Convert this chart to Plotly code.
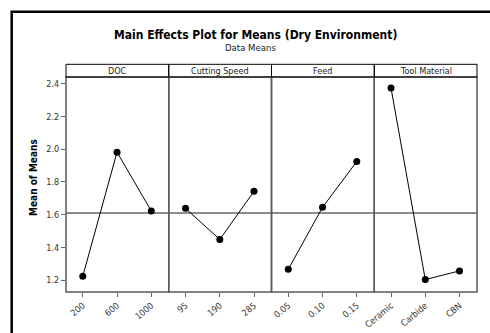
import plotly.graph_objects as go

# ---- data ----
factors = ["DOC", "Cutting Speed", "Feed", "Tool Material"]
doc_levels = ["200", "600", "1000"]
doc_means = [1.224, 1.982, 1.623]
speed_levels = ["95", "190", "285"]
speed_means = [1.639, 1.449, 1.743]
feed_levels = ["0.05", "0.10", "0.15"]
feed_means = [1.267, 1.645, 1.925]
tool_levels = ["Ceramic", "Carbide", "CBN"]
tool_means = [2.374, 1.204, 1.257]
grand_mean = 1.61
y_ticks = [1.2, 1.4, 1.6, 1.8, 2.0, 2.2, 2.4]

levels = [doc_levels, speed_levels, feed_levels, tool_levels]
means = [doc_means, speed_means, feed_means, tool_means]

W, H = 490, 333
L, R, T, B = 66, 13, 77, 41
pw, ph = W - L - R, H - T - B

def px2x(px):
    return (px - L) / pw

def px2y(py):
    return (H - B - py) / ph

FONT = "DejaVu Sans Condensed, DejaVu Sans"
fig = go.Figure()
layout = dict(
    width=W, height=H, autosize=False,
    margin=dict(l=L, r=R, t=T, b=B, pad=0, autoexpand=False),
    paper_bgcolor="white", plot_bgcolor="white",
    showlegend=False,
    font=dict(family=FONT, size=8, color="#333333"),
)
shapes = []
annotations = []
n = len(factors)
for i in range(n):
    ax = "x" if i == 0 else f"x{i+1}"
    key = "xaxis" if i == 0 else f"xaxis{i+1}"
    d0, d1 = i / n, (i + 1) / n
    fig.add_trace(go.Scatter(
        x=list(range(len(levels[i]))), y=means[i],
        xaxis=ax, yaxis="y", mode="lines+markers",
        line=dict(color="black", width=1),
        marker=dict(color="black", size=7),
        cliponaxis=False,
    ))
    layout[key] = dict(
        domain=[d0, d1], anchor="y", range=[-0.49, 2.51],
        tickmode="array", tickvals=list(range(len(levels[i]))),
        ticktext=levels[i], tickangle=-40, automargin=False,
        ticks="outside", ticklen=4, tickcolor="#666666",
        showgrid=False, zeroline=False, showline=False,
        tickfont=dict(family=FONT, size=9, color="#333333"),
    )
    # panel border
    shapes.append(dict(type="rect", xref="paper", yref="paper",
                       x0=d0, x1=d1, y0=0, y1=1,
                       line=dict(color="#5a5a5a", width=1.5), layer="above"))
    # strip
    shapes.append(dict(type="rect", xref="paper", yref="paper",
                       x0=d0, x1=d1, y0=1, y1=px2y(64.3),
                       line=dict(color="black", width=1), layer="above"))
    annotations.append(dict(text=factors[i], xref="paper", yref="paper",
                            x=(d0 + d1) / 2, y=px2y(71), showarrow=False,
                            xanchor="center", yanchor="middle",
                            font=dict(family=FONT, size=9, color="#222222")))

layout["yaxis"] = dict(
    domain=[0, 1], anchor="x", range=[1.128, 2.441], automargin=False,
    tickmode="array", tickvals=y_ticks,
    ticktext=[f"{v:.1f}" for v in y_ticks],
    ticks="outside", ticklen=4, tickcolor="#666666",
    showgrid=False, zeroline=False, showline=False,
    tickfont=dict(family=FONT, size=9, color="#333333"),
)
# grand mean reference line
shapes.append(dict(type="line", xref="paper", yref="y", x0=0, x1=1,
                   y0=grand_mean, y1=grand_mean,
                   line=dict(color="#8c8c8c", width=2), layer="below"))
# outer frame
shapes.append(dict(type="rect", xref="paper", yref="paper",
                   x0=px2x(11.7), x1=px2x(W + 20), y0=px2y(H + 20), y1=px2y(11.7),
                   line=dict(color="black", width=2.5), layer="above"))

annotations.append(dict(text="<b>Main Effects Plot for Means (Dry Environment)</b>",
                        xref="paper", yref="paper", x=px2x(255), y=px2y(34.5),
                        showarrow=False, xanchor="center", yanchor="middle",
                        font=dict(family=FONT, size=12, color="black")))
annotations.append(dict(text="Data Means", xref="paper", yref="paper",
                        x=px2x(250), y=px2y(47.5), showarrow=False,
                        xanchor="center", yanchor="middle",
                        font=dict(family=FONT, size=9.5, color="#222222")))
annotations.append(dict(text="<b>Mean of Means</b>", xref="paper", yref="paper",
                        x=px2x(33), y=px2y(178), showarrow=False, textangle=-90,
                        xanchor="center", yanchor="middle",
                        font=dict(family=FONT, size=10, color="black")))

layout["shapes"] = shapes
layout["annotations"] = annotations
fig.update_layout(**layout)
fig.write_html(
    "out.html",
    config={"displayModeBar": False},
    post_script="document.body.style.margin='0';document.body.style.overflow='hidden';",
)
